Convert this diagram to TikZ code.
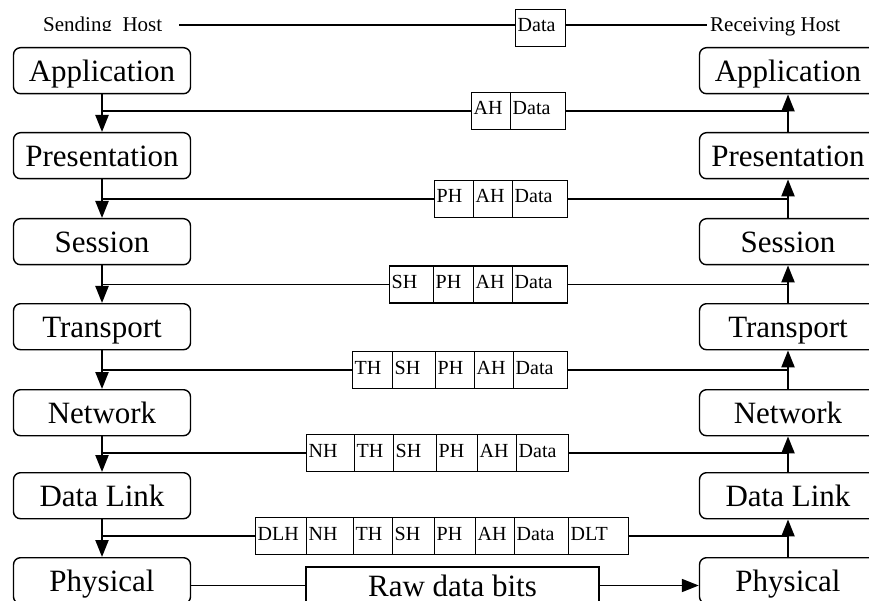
\documentclass[tikz,border=0pt]{standalone}
\usepackage{fontspec}
\setmainfont{Liberation Serif}
\usetikzlibrary{arrows.meta}
\begin{document}
\begin{tikzpicture}[x=1pt,y=-1pt,
  layer/.style={draw, rounded corners=7pt, line width=1.4pt, minimum width=177pt,
    minimum height=46pt, inner sep=0pt, anchor=north,
    font=\fontsize{31}{31}\selectfont, text height=21pt, text depth=0pt},
  cell/.style={draw, line width=1.4pt, anchor=west, minimum height=37pt,
    inner xsep=2pt, inner ysep=0pt, align=left,
    font=\fontsize{20}{20}\selectfont, text height=13pt, text depth=5pt},
  flow/.style={line width=1.8pt},
  down/.style={line width=2.2pt, -{Triangle[length=17pt,width=13pt]}},
  hostlabel/.style={font=\fontsize{21}{21}\selectfont, inner sep=0pt,
    anchor=west, text height=14pt, text depth=0pt}
]
\useasboundingbox (0,0) rectangle (869,601);
\clip (0,0) rectangle (869,601);

% protocol layers of both hosts
\foreach \n/\t/\y in {app/Application/47, pres/Presentation/132, ses/Session/218,
    trans/Transport/303, net/Network/389, dl/Data Link/472, phy/Physical/557} {
  \node[layer] (L\n) at (102,\y) {\t};
  \node[layer] (R\n) at (788,\y) {\t};
}

% host labels and the data unit exchanged between the applications
\begin{scope}
  \clip (0,0) rectangle (180,31);
  \node[hostlabel] (send) at (43,25) {Sending\ \ Host};
\end{scope}
\node[hostlabel] (recv) at (710,25) {Receiving Host};
\node[cell, text width=46pt] (top) at (515,28) {Data};
\draw[flow] ([xshift=17pt]send.east) -- (send.east -| top.west);
\draw[flow] (top.east |- recv.west) -- ([xshift=-3pt]recv.west);

% encapsulated units, one row per layer boundary
\foreach \a/\b/\l [count=\i] in {471/510/AH, 510/565/Data} {
  \pgfmathsetlengthmacro\w{\b-\a-4}
  \node[cell, text width=\w] (a\i) at (\a,111) {\l};
}
\foreach \a/\b/\l [count=\i] in {434/473/PH, 473/512/AH, 512/567/Data} {
  \pgfmathsetlengthmacro\w{\b-\a-4}
  \node[cell, text width=\w] (p\i) at (\a,199) {\l};
}
\foreach \a/\b/\l [count=\i] in {389/433/SH, 433/473/PH, 473/512/AH, 512/567/Data} {
  \pgfmathsetlengthmacro\w{\b-\a-4}
  \node[cell, text width=\w] (s\i) at (\a,284.5) {\l};
}
\foreach \a/\b/\l [count=\i] in {352/392/TH, 392/435/SH, 435/474/PH, 474/513/AH, 513/567/Data} {
  \pgfmathsetlengthmacro\w{\b-\a-4}
  \node[cell, text width=\w] (t\i) at (\a,370) {\l};
}
\foreach \a/\b/\l [count=\i] in {306/354/NH, 354/393/TH, 393/436/SH, 436/477/PH, 477/516/AH, 516/568/Data} {
  \pgfmathsetlengthmacro\w{\b-\a-4}
  \node[cell, text width=\w] (n\i) at (\a,453) {\l};
}
\foreach \a/\b/\l [count=\i] in {255/306/DLH, 306/353/NH, 353/392/TH, 392/434/SH, 434/475/PH, 475/514/AH, 514/568/Data, 568/628/DLT} {
  \pgfmathsetlengthmacro\w{\b-\a-4}
  \node[cell, text width=\w] (d\i) at (\a,536) {\l};
}

% sending side: down through the layers, each feeding its row
\draw[down] (Lapp.south) -- (Lpres.north);
\draw[down] (Lpres.south) -- (Lses.north);
\draw[down] (Lses.south) -- (Ltrans.north);
\draw[down] (Ltrans.south) -- (Lnet.north);
\draw[down] (Lnet.south) -- (Ldl.north);
\draw[down] (Ldl.south) -- (Lphy.north);
\draw[flow] (Lapp.south |- a1.west) -- (a1.west);
\draw[flow] (Lpres.south |- p1.west) -- (p1.west);
\draw[flow] (Lses.south |- s1.west) -- (s1.west);
\draw[flow] (Ltrans.south |- t1.west) -- (t1.west);
\draw[flow] (Lnet.south |- n1.west) -- (n1.west);
\draw[flow] (Ldl.south |- d1.west) -- (d1.west);

% receiving side: up through the layers
\draw[down] (Rpres.north) -- (Rapp.south);
\draw[down] (Rses.north) -- (Rpres.south);
\draw[down] (Rtrans.north) -- (Rses.south);
\draw[down] (Rnet.north) -- (Rtrans.south);
\draw[down] (Rdl.north) -- (Rnet.south);
\draw[down] (Rphy.north) -- (Rdl.south);
\draw[flow] (a2.east) -- (Rapp.south |- a2.east);
\draw[flow] (p3.east) -- (Rpres.south |- p3.east);
\draw[flow] (s4.east) -- (Rses.south |- s4.east);
\draw[flow] (t5.east) -- (Rtrans.south |- t5.east);
\draw[flow] (n6.east) -- (Rnet.south |- n6.east);
\draw[flow] (d8.east) -- (Rdl.south |- d8.east);

% physical medium
\node[draw, line width=1.4pt, minimum width=293pt, minimum height=37pt, inner sep=0pt,
  font=\fontsize{31}{31}\selectfont, text height=21pt, text depth=0pt]
  (raw) at (452.5,585.5) {Raw data bits};
\draw[flow] (Lphy.east |- raw.west) -- (raw.west);
\draw[flow, -{Triangle[length=17pt,width=13pt]}] (raw.east) -- (raw.east -| Rphy.west);
\end{tikzpicture}
\end{document}
